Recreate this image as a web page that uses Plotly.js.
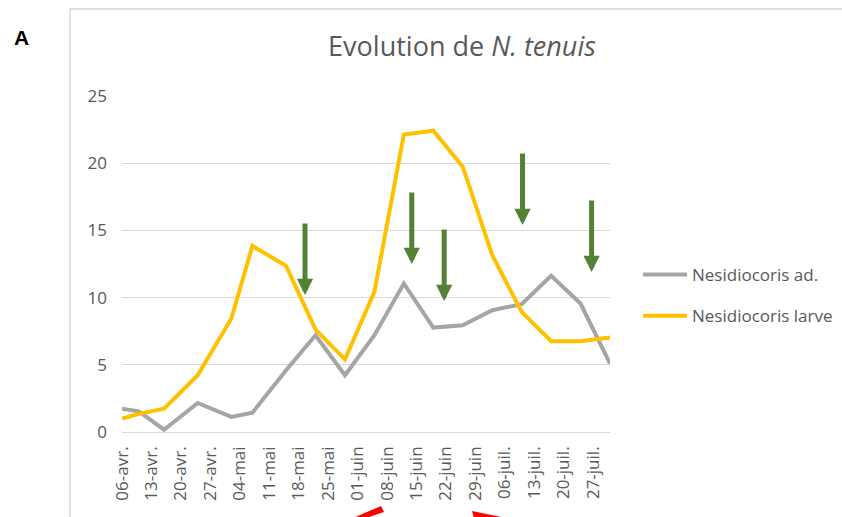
<!DOCTYPE html>
<html><head><meta charset="utf-8">
<script src="https://cdn.plot.ly/plotly-3.0.1.min.js"></script>
<style>html,body{margin:0;padding:0;background:#fff}#chart{width:842px;height:517px}</style>
</head><body><div id="chart"></div>
<script>
// ---- data ----
const dates = ['2019-04-06','2019-04-10','2019-04-16','2019-04-24','2019-05-02','2019-05-07','2019-05-15','2019-05-22','2019-05-29','2019-06-05','2019-06-12','2019-06-19','2019-06-26','2019-07-03','2019-07-10','2019-07-17','2019-07-24','2019-07-31'];
const adultes = [1.74,1.54,0.17,2.16,1.12,1.44,4.6,7.2,4.22,7.2,11.05,7.77,7.94,9.06,9.51,11.62,9.56,5.09];
const larves  = [0.99,1.35,1.74,4.22,8.44,13.85,12.36,7.62,5.41,10.43,22.14,22.42,19.74,13.16,8.94,6.75,6.75,7.03];
const seriesNames = ['Nesidiocoris ad.','Nesidiocoris larve'];
const tickDates = ['2019-04-06','2019-04-13','2019-04-20','2019-04-27','2019-05-04','2019-05-11','2019-05-18','2019-05-25','2019-06-01','2019-06-08','2019-06-15','2019-06-22','2019-06-29','2019-07-06','2019-07-13','2019-07-20','2019-07-27'];
const tickLabels = ['06-avr.','13-avr.','20-avr.','27-avr.','04-mai','11-mai','18-mai','25-mai','01-juin','08-juin','15-juin','22-juin','29-juin','06-juil.','13-juil.','20-juil.','27-juil.'];
const yTicks = [0,5,10,15,20,25];
// green arrows (tip position)
const arrowDates = ['2019-05-19 12:00','2019-06-13 21:00','2019-06-21 14:00','2019-07-10 05:00','2019-07-26 15:00'];
const arrowTips = [10.2,12.5,9.75,15.4,11.9];

// ---- geometry helpers for decorations (pixel -> paper) ----
const L = 122, R = 610, T = 96, B = 432, W = 842, H = 517;
const px = x => (x - L) / (R - L);
const py = y => (B - y) / (B - T);
const pathPx = pts => pts.map((p, i) => (i ? 'L' : 'M') + px(p[0]).toFixed(4) + ',' + py(p[1]).toFixed(4)).join(' ') + ' Z';

const font = 'Open Sans, sans-serif';
const grey = '#595959';

const traces = [
  {x: dates, y: adultes, name: seriesNames[0], type: 'scatter', mode: 'lines',
   line: {color: '#a5a5a5', width: 4}, legendgroup: 'a'},
  {x: dates, y: larves, name: seriesNames[1], type: 'scatter', mode: 'lines',
   line: {color: '#ffc000', width: 4}, legendgroup: 'b'}
];

const annotations = arrowDates.map((d, i) => ({
  x: d, y: arrowTips[i], xref: 'x', yref: 'y', ax: 0, ay: -73, text: '',
  showarrow: true, arrowhead: 2, arrowsize: 0.65, arrowwidth: 5, arrowcolor: '#548235'
}));
annotations.push({
  text: '<b>A</b>', xref: 'paper', yref: 'paper', x: px(21), y: py(38),
  xanchor: 'center', yanchor: 'middle', showarrow: false,
  font: {family: 'Liberation Sans, Arial, sans-serif', size: 21, color: '#000'}
});

const shapes = [
  {type: 'path', xref: 'paper', yref: 'paper', path: 'M' + px(70) + ',' + py(530) + ' L' + px(70) + ',' + py(9) + ' L' + px(860) + ',' + py(9),
   line: {color: '#d9d9d9', width: 1.5}},
  {type: 'path', xref: 'paper', yref: 'paper', path: pathPx([[353,518],[381,506],[384,512],[366,518]]),
   fillcolor: '#ff0000', line: {width: 0}},
  {type: 'path', xref: 'paper', yref: 'paper', path: pathPx([[472,511],[506,518],[474,518]]),
   fillcolor: '#ff0000', line: {width: 0}}
];

const layout = {
  width: W, height: H,
  margin: {l: L, r: W - R, t: T, b: H - B, pad: 0, autoexpand: false},
  paper_bgcolor: '#fff', plot_bgcolor: '#fff',
  font: {family: font, color: grey},
  title: {text: 'Evolution de <i>N. tenuis</i>', xref: 'container', yref: 'container',
          x: 462 / W, xanchor: 'center', y: 1 - 47 / H, yanchor: 'middle',
          font: {family: font, size: 27, color: grey}},
  xaxis: {type: 'date', range: ['2019-04-06', '2019-07-31'], tickmode: 'array',
          tickvals: tickDates, ticktext: tickLabels, tickangle: -90, automargin: false,
          showgrid: false, zeroline: false, showline: false, ticks: '',
          ticklabelstandoff: 10, tickfont: {family: font, size: 17, color: grey}},
  yaxis: {range: [0, 25], tickmode: 'array', tickvals: yTicks, showgrid: true, automargin: false,
          gridcolor: '#d9d9d9', gridwidth: 1, zeroline: true, zerolinecolor: '#d9d9d9',
          zerolinewidth: 1, showline: false, ticks: '', ticklabelstandoff: 14,
          tickfont: {family: font, size: 17, color: grey}},
  showlegend: true,
  legend: {x: px(638), y: py(257), xanchor: 'left', yanchor: 'top', traceorder: 'grouped',
           tracegroupgap: 16, itemwidth: 44, bgcolor: 'rgba(0,0,0,0)',
           font: {family: font, size: 17, color: grey}},
  annotations: annotations,
  shapes: shapes
};

Plotly.newPlot('chart', traces, layout, {displayModeBar: false, staticPlot: true});
</script>
</body></html>
